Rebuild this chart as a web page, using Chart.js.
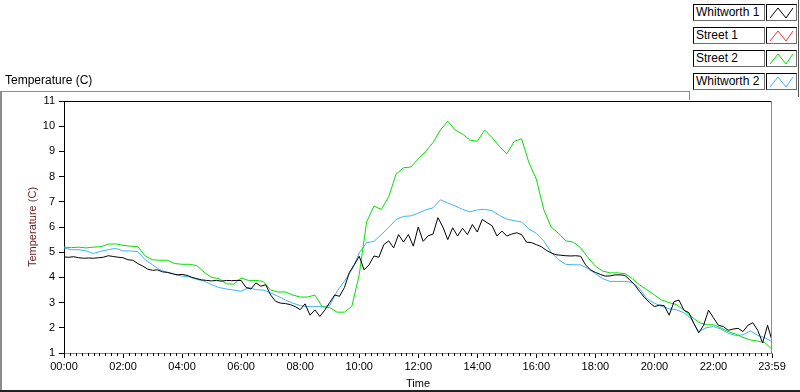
<!DOCTYPE html>
<html>
<head>
<meta charset="utf-8">
<script src="https://cdn.jsdelivr.net/npm/chart.js@4.4.1/dist/chart.umd.min.js"></script>
<style>
  html, body { margin: 0; padding: 0; background: #fff; }
  #tela { position: relative; width: 800px; height: 392px; overflow: hidden; font-family: "Liberation Sans", Arial, sans-serif; }
  #grafico { position: absolute; left: 0; top: 0; }
  .linha { position: absolute; background: #8c8c8c; }
  #titulo-topo { position: absolute; left: 5px; top: 73px; font-size: 12px; color: #000; }
  .leg-texto { position: absolute; left: 693px; width: 68px; height: 15px; border: 1px solid #000; border-right-color: #6e6e6e; border-bottom-color: #6e6e6e; font-size: 12px; line-height: 15px; padding-left: 2px; background: #fff; white-space: nowrap; }
  .leg-icone { position: absolute; left: 766px; width: 29px; height: 15px; border: 1px solid #000; border-right-color: #6e6e6e; border-bottom-color: #6e6e6e; background: #fff; }
</style>
</head>
<body>
<div id="tela">
  <canvas id="grafico" width="800" height="392"></canvas>
  <div class="linha" style="left:0;top:91px;width:690px;height:1px"></div>
  <div class="linha" style="left:689px;top:91px;width:1px;height:9px"></div>
  <div class="linha" style="left:0;top:91px;width:2px;height:301px"></div>
  <div class="linha" style="left:798px;top:0;width:1px;height:97px;background:#555"></div>
  <div class="linha" style="left:0;top:390px;width:800px;height:2px;background:#222"></div>
  <div id="titulo-topo">Temperature (C)</div>
  <div id="legenda"></div>
</div>
<script>
// horários (minutos desde 00:00)
const minutos15 = [0,15,30,45,60,75,90,105,120,135,150,165,180,195,210,225,240,255,270,285,300,315,330,345,360,375,390,405,420,435,450,465,480,495,510,525,540,555,570,585,600,615,630,645,660,675,690,705,720,735,750,765,780,795,810,825,840,855,870,885,900,915,930,945,960,975,990,1005,1020,1035,1050,1065,1080,1095,1110,1125,1140,1155,1170,1185,1200,1215,1230,1245,1260,1275,1290,1305,1320,1335,1350,1365,1380,1395,1410,1425,1439];
const minutos10 = [0,10,20,30,40,50,60,70,80,90,100,110,120,130,140,150,160,170,180,190,200,210,220,230,240,250,260,270,280,290,300,310,320,330,340,350,360,370,380,390,400,410,420,430,440,450,460,470,480,490,500,510,520,530,540,550,560,570,580,590,600,610,620,630,640,650,660,670,680,690,700,710,720,730,740,750,760,770,780,790,800,810,820,830,840,850,860,870,880,890,900,910,920,930,940,950,960,970,980,990,1000,1010,1020,1030,1040,1050,1060,1070,1080,1090,1100,1110,1120,1130,1140,1150,1160,1170,1180,1190,1200,1210,1220,1230,1240,1250,1260,1270,1280,1290,1300,1310,1320,1330,1340,1350,1360,1370,1380,1390,1400,1410,1420,1430,1439];

const whitworth1 = [
  4.81,4.8,4.82,4.78,4.76,4.77,4.76,4.78,4.8,4.86,4.83,4.8,
  4.78,4.7,4.68,4.55,4.45,4.33,4.28,4.3,4.22,4.2,4.15,4.1,
  4.12,4.08,4.0,3.95,3.9,3.88,3.86,3.88,3.85,3.88,3.87,3.88,
  3.88,3.6,3.54,3.78,3.65,3.71,3.3,3.05,2.98,2.96,2.92,2.84,
  2.72,2.95,2.5,2.71,2.45,2.7,3.0,3.3,3.25,3.6,4.2,4.5,
  4.84,4.3,4.5,4.85,4.8,5.3,5.45,5.17,5.7,5.4,5.7,5.24,
  6.0,5.43,5.65,5.72,6.37,6.0,5.5,5.97,5.64,5.95,5.7,6.1,
  5.8,6.3,6.17,6.05,5.64,5.84,5.64,5.72,5.77,5.7,5.4,5.38,
  5.3,5.22,5.08,4.97,4.9,4.88,4.86,4.85,4.86,4.84,4.5,4.3,
  4.2,4.12,4.05,4.06,4.1,4.1,4.08,3.9,3.7,3.44,3.2,3.0,
  2.84,2.9,2.88,2.5,3.04,3.1,2.7,2.6,2.18,1.8,2.1,2.7,
  2.4,2.1,2.05,1.9,1.95,1.98,1.85,2.1,2.2,1.9,1.4,2.1,
  1.5
];
const street1 = [];
const street2 = [
  5.2,5.18,5.2,5.17,5.2,5.22,5.32,5.33,5.27,5.24,5.22,4.85,4.7,4.68,4.68,4.55,4.52,4.52,4.47,4.2,
  4.0,3.95,3.75,3.73,3.98,3.88,3.88,3.84,3.5,3.42,3.42,3.3,3.22,3.22,3.3,2.83,2.8,2.62,2.62,2.85,
  4.1,6.2,6.83,6.7,7.2,8.1,8.35,8.38,8.7,9.0,9.35,9.85,10.2,9.85,9.69,9.45,9.4,9.85,9.55,9.2,
  8.9,9.4,9.5,8.55,7.9,6.7,6.0,5.75,5.45,5.4,5.18,4.78,4.45,4.25,4.18,4.18,4.15,3.95,3.7,3.51,
  3.3,3.1,3.0,2.92,2.7,2.45,2.22,2.12,2.12,2.0,1.85,1.75,1.62,1.52,1.47,1.4,1.15
];
const whitworth2 = [
  5.17,5.1,5.1,5.05,4.95,5.04,5.1,5.15,5.05,5.05,5.02,4.7,4.5,4.3,4.2,4.12,4.05,4.02,3.92,3.85,
  3.71,3.6,3.54,3.5,3.45,3.6,3.51,3.5,3.38,3.25,3.1,2.98,2.88,2.84,2.84,2.84,2.88,3.45,3.85,4.3,
  4.97,5.38,5.43,5.7,5.98,6.3,6.42,6.44,6.55,6.68,6.76,7.08,6.95,6.84,6.7,6.6,6.68,6.7,6.65,6.46,
  6.31,6.25,6.2,5.92,5.75,5.45,5.0,4.7,4.52,4.5,4.5,4.35,4.15,3.95,3.84,3.84,3.84,3.8,3.55,3.15,
  2.98,2.85,2.76,2.71,2.6,2.35,1.85,2.0,2.05,1.95,1.78,1.7,1.72,1.88,1.7,1.6,1.45
];

const ticksX = [0,120,240,360,480,600,720,840,960,1080,1200,1320,1439];
const rotulosX = ["00:00","02:00","04:00","06:00","08:00","10:00","12:00","14:00","16:00","18:00","20:00","22:00","23:59"];
const nomesSeries = ["Whitworth 1", "Street 1", "Street 2", "Whitworth 2"];
const coresSeries = ["#000000", "#ff3030", "#00e000", "#3cb4f5"];

const pontos = (tempos, valores) => valores.map((v, i) => ({ x: tempos[i], y: v }));

// legenda no estilo do painel original
document.getElementById("legenda").innerHTML = nomesSeries.map((nome, i) => {
  const topo = 4 + i * 23;
  return `<div class="leg-texto" style="top:${topo}px">${nome}</div>
    <div class="leg-icone" style="top:${topo}px"><svg width="29" height="15"><polyline points="3,13 11,3 19,13 26,3" fill="none" stroke="${coresSeries[i]}" stroke-width="1"/></svg></div>`;
}).join("");

// moldura do gráfico e marcas menores do eixo de tempo
const molduraPlugin = {
  id: "moldura",
  afterDraw(chart) {
    const { ctx, chartArea: a, scales: { x } } = chart;
    ctx.save();
    ctx.lineWidth = 1;
    ctx.strokeStyle = "#000";
    ctx.beginPath(); ctx.moveTo(a.left, a.top + 0.5); ctx.lineTo(a.right, a.top + 0.5); ctx.stroke();
    ctx.strokeStyle = "#8a8a8a";
    ctx.beginPath(); ctx.moveTo(a.right - 0.5, a.top); ctx.lineTo(a.right - 0.5, a.bottom); ctx.stroke();
    ctx.strokeStyle = "#000";
    ctx.beginPath();
    for (let m = 12; m < 1439; m += 12) {
      if (m % 120 === 0) continue;
      const px = Math.round(x.getPixelForValue(m)) + 0.5;
      ctx.moveTo(px, a.bottom); ctx.lineTo(px, a.bottom + 3);
    }
    ctx.stroke();
    ctx.restore();
  }
};

const fonteEixo = { family: '"Liberation Sans", Arial, sans-serif', size: 11 };

new Chart(document.getElementById("grafico").getContext("2d"), {
  type: "line",
  data: {
    datasets: [
      { label: nomesSeries[0], data: pontos(minutos10, whitworth1), borderColor: coresSeries[0] },
      { label: nomesSeries[1], data: street1, borderColor: coresSeries[1] },
      { label: nomesSeries[2], data: pontos(minutos15, street2), borderColor: coresSeries[2] },
      { label: nomesSeries[3], data: pontos(minutos15, whitworth2), borderColor: coresSeries[3] }
    ].map((d) => ({ ...d, borderWidth: 1, pointRadius: 0, tension: 0, fill: false }))
  },
  options: {
    responsive: false,
    animation: false,
    layout: { padding: { left: 0, top: 101, right: 28, bottom: 0 } },
    plugins: { legend: { display: false }, tooltip: { enabled: false } },
    scales: {
      x: {
        type: "linear",
        min: 0,
        max: 1439,
        afterBuildTicks: (s) => { s.ticks = ticksX.map((v) => ({ value: v })); },
        afterFit: (s) => { s.height = 39; },
        ticks: { callback: (v, i) => rotulosX[i], autoSkip: false, maxRotation: 0, color: "#000", font: fonteEixo, padding: 2 },
        grid: { drawOnChartArea: false, tickLength: 5, tickColor: "#000" },
        border: { display: true, color: "#8a8a8a" },
        title: { display: true, text: "Time", color: "#000", font: fonteEixo, padding: { top: 0, bottom: 1 } }
      },
      y: {
        min: 1,
        max: 11,
        afterFit: (s) => { s.width = 64; },
        ticks: { stepSize: 1, color: "#000", font: fonteEixo, padding: 4 },
        grid: { drawOnChartArea: false, tickLength: 5, tickColor: "#000" },
        border: { display: true, color: "#000" },
        title: { display: true, text: "Temperature (C)", color: "#6a1b1b", font: fonteEixo, padding: { top: 26, bottom: 0 } }
      }
    }
  },
  plugins: [molduraPlugin]
});
</script>
</body>
</html>
